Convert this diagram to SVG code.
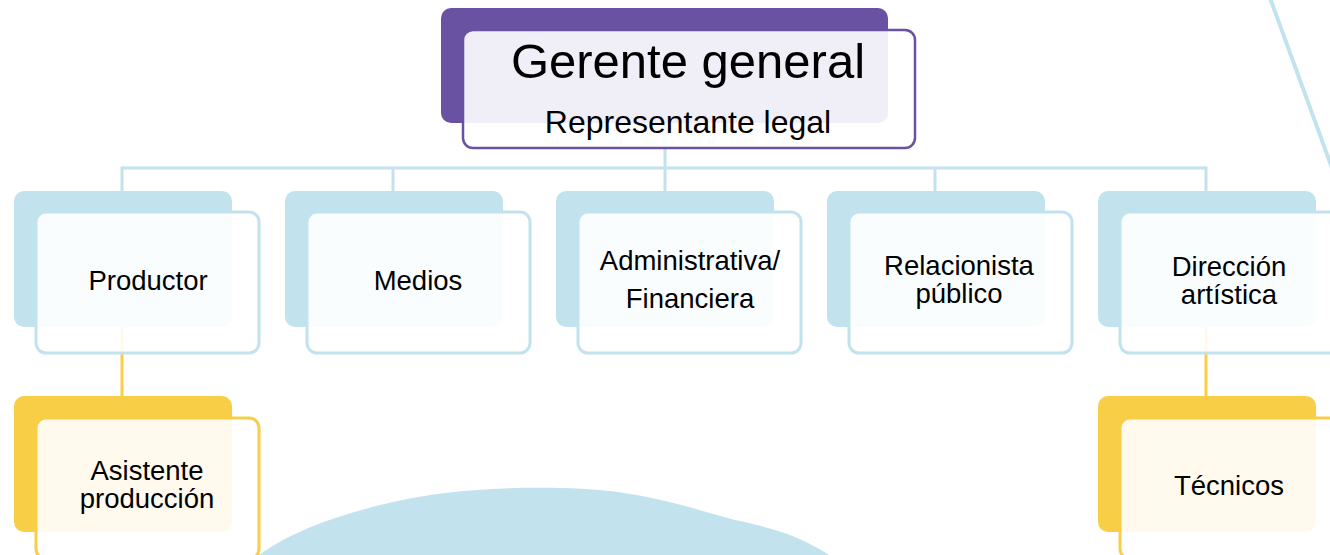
<svg xmlns="http://www.w3.org/2000/svg" width="1330" height="555" viewBox="0 0 1330 555">
<style>
.txt{font-family:"Liberation Sans",Arial,sans-serif;fill:#000;text-anchor:middle}
.lbl{font-size:27.5px}
.bk-b{fill:#C2E3EE}
.fr-b{fill:#fff;fill-opacity:0.9;stroke:#C2E3EE;stroke-width:3}
.bk-y{fill:#F7CE46}
.fr-y{fill:#fff;fill-opacity:0.9;stroke:#F7CE46;stroke-width:3}
.conn-b{stroke:#C2E3EE;stroke-width:3;fill:none}
.conn-y{stroke:#F7CE46;stroke-width:3;fill:none}
</style>
<rect width="1330" height="555" fill="#fff"/>
<path id="blob" d="M256,557 C290,532 330,518 380,505 C440,490 500,487 560,488 C640,489 690,508 735,520 C775,528 805,538 832,557 Z" fill="#C2E3EE"/>
<line x1="1270" y1="-2" x2="1332" y2="168" stroke="#C2E3EE" stroke-width="4"/>
<g id="connectors">
<path class="conn-b" d="M665,123 V191 M122,191 V168 H1206 V191 M393,168 V191 M935,168 V191"/>
<path class="conn-y" d="M122,327 V396 M1206,327 V396"/>
</g>
<g id="gerente">
<rect x="441" y="8" width="447" height="115" rx="10" fill="#6A52A3"/>
<rect x="463" y="30" width="452" height="118" rx="10" fill="#fff" fill-opacity="0.9" stroke="#6A52A3" stroke-width="2.5"/>
<text class="txt" x="688" y="78" font-size="49">Gerente general</text>
<text class="txt" x="688" y="133" font-size="32">Representante legal</text>
</g>
<g id="productor">
<rect class="bk-b" x="14" y="191" width="218" height="136" rx="10"/>
<rect class="fr-b" x="36" y="212" width="223" height="141" rx="10"/>
<text class="txt lbl" x="148" y="290">Productor</text>
</g>
<g id="medios">
<rect class="bk-b" x="285" y="191" width="218" height="136" rx="10"/>
<rect class="fr-b" x="307" y="212" width="223" height="141" rx="10"/>
<text class="txt lbl" x="418" y="290">Medios</text>
</g>
<g id="administrativa">
<rect class="bk-b" x="556" y="191" width="218" height="136" rx="10"/>
<rect class="fr-b" x="578" y="212" width="223" height="141" rx="10"/>
<text class="txt lbl" x="690" y="270">Administrativa/</text>
<text class="txt lbl" x="690" y="308">Financiera</text>
</g>
<g id="relacionista">
<rect class="bk-b" x="827" y="191" width="218" height="136" rx="10"/>
<rect class="fr-b" x="849" y="212" width="223" height="141" rx="10"/>
<text class="txt lbl" x="959" y="275">Relacionista</text>
<text class="txt lbl" x="959" y="303">público</text>
</g>
<g id="direccion">
<rect class="bk-b" x="1098" y="191" width="218" height="136" rx="10"/>
<rect class="fr-b" x="1120" y="212" width="223" height="141" rx="10"/>
<text class="txt lbl" x="1229" y="276">Dirección</text>
<text class="txt lbl" x="1229" y="304">artística</text>
</g>
<g id="asistente">
<rect class="bk-y" x="14" y="396" width="218" height="136" rx="10"/>
<rect class="fr-y" x="36" y="418" width="223" height="141" rx="10"/>
<text class="txt lbl" x="147" y="480">Asistente</text>
<text class="txt lbl" x="147" y="508">producción</text>
</g>
<g id="tecnicos">
<rect class="bk-y" x="1098" y="396" width="218" height="136" rx="10"/>
<rect class="fr-y" x="1120" y="418" width="223" height="141" rx="10"/>
<text class="txt lbl" x="1229" y="495">Técnicos</text>
</g>
</svg>
